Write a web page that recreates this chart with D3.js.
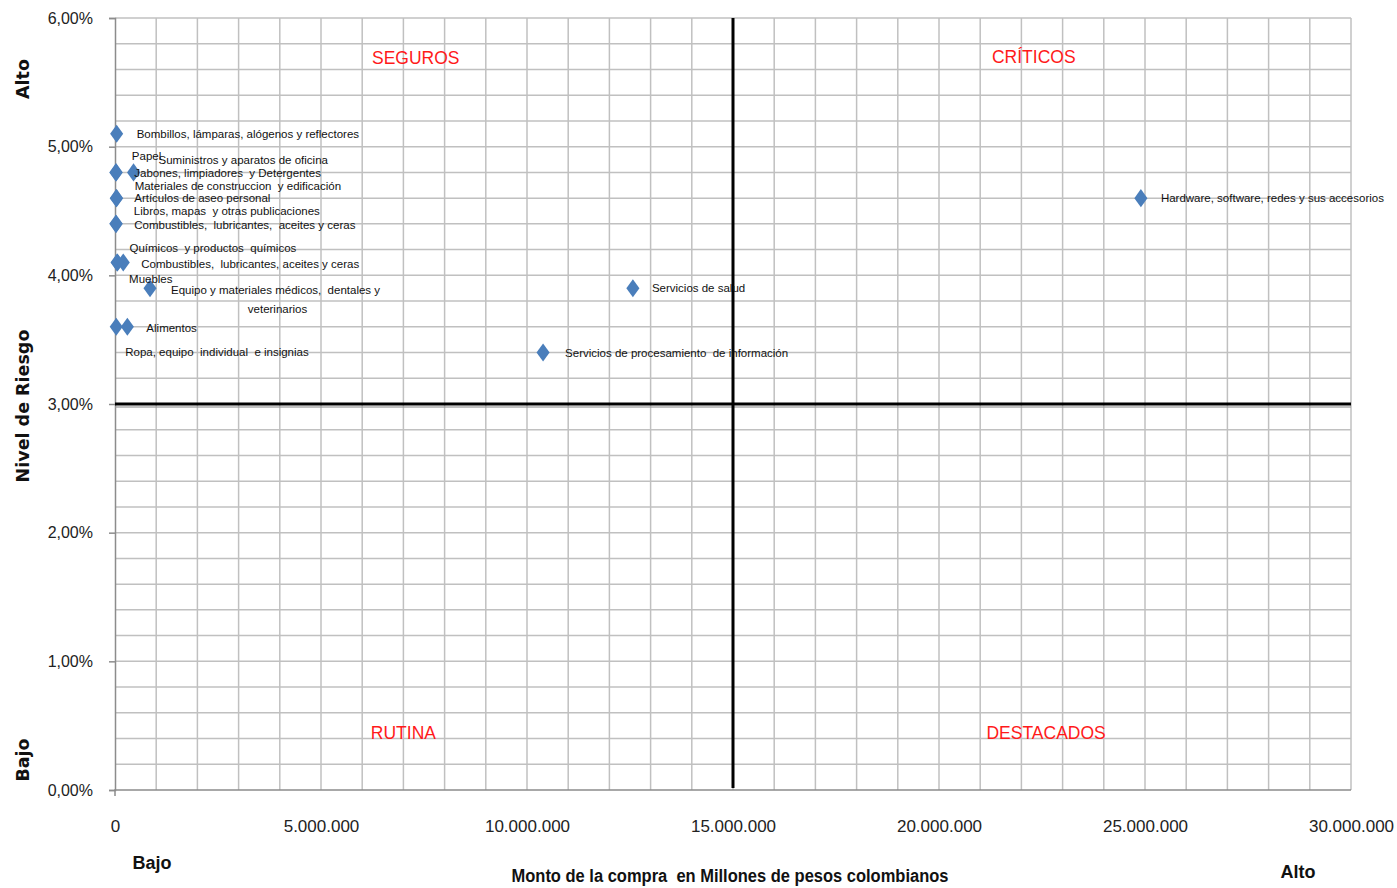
<!DOCTYPE html>
<html>
<head>
<meta charset="utf-8">
<script src="https://cdn.jsdelivr.net/npm/d3@7"></script>
<style>
  body { margin: 0; background: #fff; }
  text { white-space: pre; }
</style>
</head>
<body>
<div id="chart"></div>
<script>
// Categories (rubros de compra)
const categories = [
  "Bombillos, lámparas, alógenos y reflectores",
  "Papel",
  "Suministros y aparatos de oficina",
  "Jabones, limpiadores  y Detergentes",
  "Materiales de construccion  y edificación",
  "Artículos de aseo personal",
  "Libros, mapas  y otras publicaciones",
  "Combustibles,  lubricantes,  aceites y ceras",
  "Químicos  y productos  químicos",
  "Combustibles,  lubricantes, aceites y ceras",
  "Muebles",
  "Equipo y materiales médicos,  dentales y|veterinarios",
  "Alimentos",
  "Ropa, equipo  individual  e insignias",
  "Servicios de salud",
  "Servicios de procesamiento  de información",
  "Hardware, software, redes y sus accesorios"
];
// Monto de la compra (pesos colombianos)
const monto = [40000, 20000, 450000, 30000, 40000, 30000, 20000, 30000, 60000,
  200000, 50000, 850000, 300000, 30000, 12570000, 10390000, 24900000];
// Nivel de riesgo
const riesgo = [0.051, 0.048, 0.048, 0.048, 0.046, 0.046, 0.044, 0.044, 0.041,
  0.041, 0.041, 0.039, 0.036, 0.036, 0.039, 0.034, 0.046];

const xTicks = [0, 5e6, 10e6, 15e6, 20e6, 25e6, 30e6];
const yTicks = [0, 0.01, 0.02, 0.03, 0.04, 0.05, 0.06];
const quadrants = ["SEGUROS", "CRÍTICOS", "RUTINA", "DESTACADOS"];
const quadrantPos = [[7.3e6, 0.0568], [22.3e6, 0.0569], [7.0e6, 0.0043], [22.6e6, 0.0043]];

// label nudges [dx, dy] from each point, same order as categories
const labelNudge = [[20, 1], [16, -15], [25, -11], [18, 2], [18, -11], [18, 1], [18, -12],
  [18, 2], [12, -13], [18, 3], [12, 18], [21, 3], [19, 2], [9, 26], [19, 1], [22, 1], [20, 1]];

const width = 1397, height = 888;
const margin = { top: 18, right: 46, bottom: 98, left: 115 };

const locale = d3.formatLocale({ decimal: ",", thousands: ".", grouping: [3], currency: ["$", ""] });

const svg = d3.select("#chart").append("svg")
  .attr("width", width).attr("height", height);

const x = d3.scaleLinear().domain([0, 30e6]).range([margin.left, width - margin.right]);
const y = d3.scaleLinear().domain([0, 0.06]).range([height - margin.bottom, margin.top]);

// grid: minor every 1.000.000 and every 0,20%
const grid = svg.append("g").attr("stroke", "#c0c0c0").attr("stroke-width", 1.5);
grid.selectAll("line.v").data(d3.range(1, 31).map(d => d * 1e6)).enter().append("line")
  .attr("x1", d => x(d)).attr("x2", d => x(d))
  .attr("y1", y(0.06)).attr("y2", y(0));
grid.selectAll("line.h").data(d3.range(1, 31).map(d => d * 0.002)).enter().append("line")
  .attr("x1", x(0)).attr("x2", x(30e6))
  .attr("y1", d => y(d)).attr("y2", d => y(d));

// axes
const xAxis = svg.append("g")
  .attr("transform", `translate(0,${y(0)})`)
  .call(d3.axisBottom(x).tickValues(xTicks).tickSize(0).tickPadding(30)
    .tickFormat(d => d === 0 ? "0" : locale.format(",d")(d)));
const yAxis = svg.append("g")
  .attr("transform", `translate(${x(0)},0)`)
  .call(d3.axisLeft(y).tickValues(yTicks).tickSize(6).tickPadding(16)
    .tickFormat(locale.format(".2%")));
[xAxis, yAxis].forEach(a => {
  a.select(".domain").attr("stroke", "#8c8c8c").attr("stroke-width", 1.5);
  a.selectAll(".tick line").attr("stroke", "#8c8c8c").attr("stroke-width", 1.5);
  a.selectAll("text").attr("font-family", "Liberation Sans, Arial, sans-serif")
    .attr("font-size", 16).attr("fill", "#222");
});
xAxis.selectAll("text").attr("font-size", 17);
xAxis.select(".domain").attr("d", `M${x(0)},6V0H${x(30e6)}`);

// quadrant dividers
svg.append("line")
  .attr("x1", x(0)).attr("x2", x(30e6)).attr("y1", y(0.03) + 3).attr("y2", y(0.03) + 3)
  .attr("stroke", "#999").attr("stroke-width", 2).attr("opacity", 0.6);
svg.append("line")
  .attr("x1", x(0)).attr("x2", x(30e6)).attr("y1", y(0.03)).attr("y2", y(0.03))
  .attr("stroke", "#000").attr("stroke-width", 3);
svg.append("line")
  .attr("x1", x(15e6)).attr("x2", x(15e6)).attr("y1", y(0.06)).attr("y2", y(0) - 2)
  .attr("stroke", "#000").attr("stroke-width", 3);

// quadrant names
svg.append("g").selectAll("text").data(quadrants).enter().append("text")
  .attr("x", (d, i) => x(quadrantPos[i][0]))
  .attr("y", (d, i) => y(quadrantPos[i][1]))
  .attr("text-anchor", "middle").attr("dominant-baseline", "middle")
  .attr("font-family", "Liberation Sans, Arial, sans-serif")
  .attr("font-size", 17.5).attr("fill", "#ff1a1a")
  .text(d => d);

// points
const diamond = d3.symbol().type(d3.symbolDiamond).size(95);
svg.append("g").selectAll("path").data(categories).enter().append("path")
  .attr("d", diamond)
  .attr("transform", (d, i) => `translate(${x(monto[i])},${y(riesgo[i])}) scale(1.25,1)`)
  .attr("fill", "#4a7ebb");

// point labels
const labels = svg.append("g")
  .attr("font-family", "Liberation Sans, Arial, sans-serif")
  .attr("font-size", 11.5).attr("fill", "#111");
categories.forEach((name, i) => {
  const lx = x(monto[i]) + labelNudge[i][0];
  const ly = y(riesgo[i]) + labelNudge[i][1];
  const lines = name.split("|");
  const t = labels.append("text").attr("x", lx).attr("y", ly)
    .attr("dominant-baseline", "middle").text(lines[0]);
  if (lines.length > 1) {
    const w = t.node().getComputedTextLength();
    labels.append("text").attr("x", lx + w / 2 + 2).attr("y", ly + 19)
      .attr("text-anchor", "middle").attr("dominant-baseline", "middle").text(lines[1]);
  }
});

// axis titles
svg.append("text").attr("x", 730).attr("y", 882).attr("text-anchor", "middle")
  .attr("font-family", "Liberation Sans, Arial, sans-serif")
  .attr("font-size", 18).attr("font-weight", "bold").attr("fill", "#111")
  .attr("textLength", 437).attr("lengthAdjust", "spacingAndGlyphs")
  .text("Monto de la compra  en Millones de pesos colombianos");
svg.append("text").attr("x", 152).attr("y", 869).attr("text-anchor", "middle")
  .attr("font-family", "Liberation Sans, Arial, sans-serif")
  .attr("font-size", 18).attr("font-weight", "bold").attr("fill", "#111").text("Bajo");
svg.append("text").attr("x", 1298).attr("y", 878).attr("text-anchor", "middle")
  .attr("font-family", "Liberation Sans, Arial, sans-serif")
  .attr("font-size", 18).attr("font-weight", "bold").attr("fill", "#111").text("Alto");

const yTitles = [["Alto", 79], ["Nivel de Riesgo", 406], ["Bajo", 760]];
svg.append("g").selectAll("text").data(yTitles).enter().append("text")
  .attr("transform", d => `translate(29,${d[1]}) rotate(-90)`)
  .attr("text-anchor", "middle")
  .attr("font-family", "DejaVu Sans, Verdana, sans-serif")
  .attr("font-size", 17.5).attr("font-weight", "bold").attr("fill", "#111")
  .text(d => d[0]);
</script>
</body>
</html>
